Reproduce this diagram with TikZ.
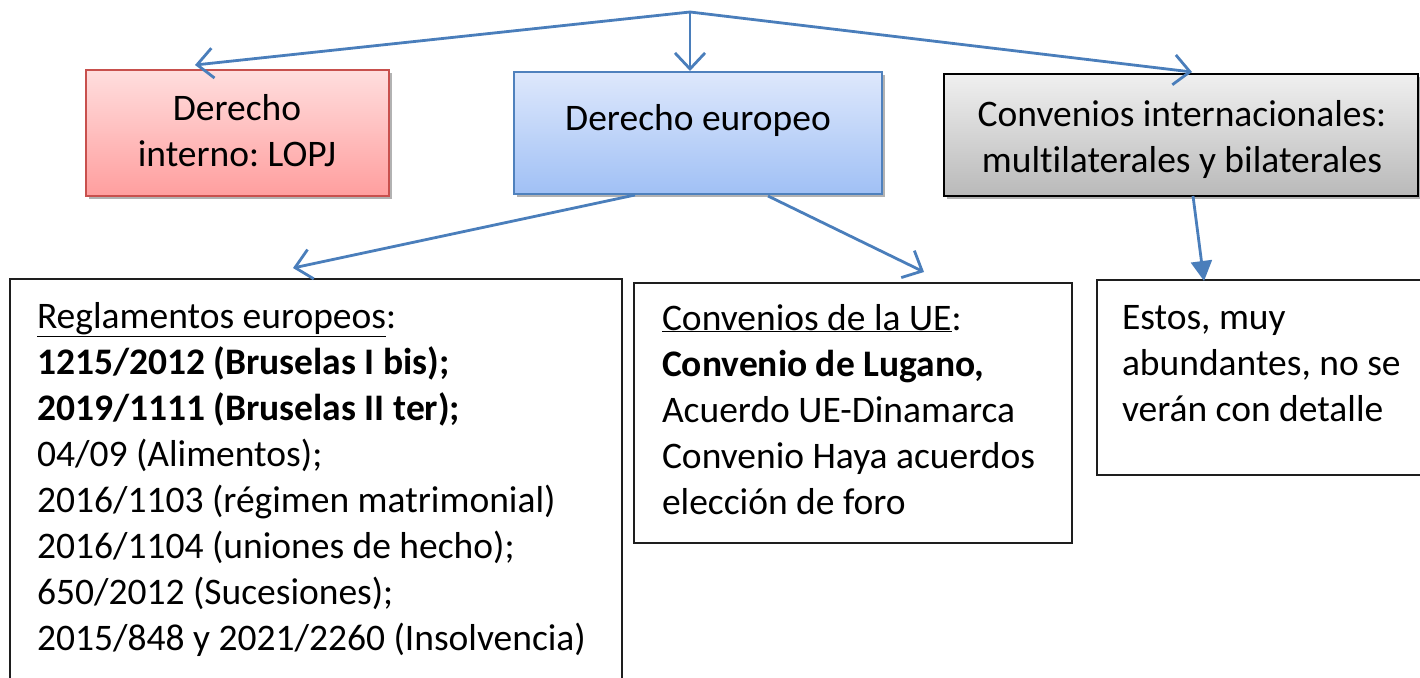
\documentclass[tikz,border=0pt]{standalone}
\usepackage{fontspec}
\setmainfont[Ligatures=NoCommon]{Carlito}
\usetikzlibrary{arrows.meta,shadows,calc}
\definecolor{arrowblue}{RGB}{74,126,187}
\definecolor{redtop}{RGB}{255,222,222}
\definecolor{redbot}{RGB}{255,158,158}
\definecolor{redline}{RGB}{200,80,77}
\definecolor{bluetop}{RGB}{222,232,252}
\definecolor{bluebot}{RGB}{160,192,245}
\definecolor{blueline}{RGB}{79,129,189}
\definecolor{greytop}{RGB}{240,240,240}
\definecolor{greybot}{RGB}{185,185,185}
\definecolor{boxline}{RGB}{30,30,30}
\frenchspacing
\begin{document}
\begin{tikzpicture}[x=1pt,y=-1pt,
  every node/.style={inner sep=0pt, outer sep=0pt},
  txt/.style={font=\fontsize{37.5}{46}\selectfont\frenchspacing, text=black},
  shadowed/.style={drop shadow={shadow xshift=3pt,shadow yshift=-3pt,opacity=0.3,fill=black}},
  redbox/.style={shadowed, rectangle, draw=redline, line width=1.5pt, top color=redtop, bottom color=redbot, anchor=north west},
  bluebox/.style={shadowed, rectangle, draw=blueline, line width=1.5pt, top color=bluetop, bottom color=bluebot, anchor=north west},
  greybox/.style={shadowed, rectangle, draw=black, line width=2pt, top color=greytop, bottom color=greybot, anchor=north west},
  plainbox/.style={rectangle, draw=boxline, line width=2pt, fill=white, anchor=north west},
  conn/.style={draw=arrowblue, line width=2.8pt, -{Straight Barb[length=16pt,width=30pt,line width=2.8pt]}},
  connfilled/.style={draw=arrowblue, line width=2.8pt, -{Triangle[length=20pt,width=21pt]}}
]
\useasboundingbox (0,0) rectangle (1420,677);

% top boxes
\node[redbox, minimum width=303pt, minimum height=126pt] (lopj) at (86,70) {};
\node[bluebox, minimum width=368pt, minimum height=122pt] (euro) at (514,72) {};
\node[greybox, minimum width=474pt, minimum height=122pt] (conv) at (944,74) {};

\node[txt, align=center, anchor=north] (lopjtxt) at (237,87.8) {\strut Derecho\\ \strut interno: LOPJ};
\node[txt, anchor=north] (eurotxt) at (698,97.8) {\strut Derecho europeo};
\node[txt, align=center, anchor=north] (convtxt) at (1182,93.8) {\strut Convenios internacionales:\\ \strut multilaterales y bilaterales};

% lower boxes
\node[plainbox, minimum width=612pt, minimum height=430pt] (regl) at (10,279) {};
\node[plainbox, minimum width=438pt, minimum height=260pt] (ue) at (634,283) {};
\node[plainbox, minimum width=340pt, minimum height=195pt] (otros) at (1097,280) {};

\node[txt, align=left, anchor=north west] (regltxt) at (37,295.8) {%
\strut\underline{Reglamentos europeos}:\\
\strut\textbf{1215/2012 (Bruselas I bis);}\\
\strut\textbf{2019/1111 (Bruselas II ter);}\\
\strut 04/09 (Alimentos);\\
\strut 2016/1103 (régimen matrimonial)\\
\strut 2016/1104 (uniones de hecho);\\
\strut 650/2012 (Sucesiones);\\
\strut 2015/848 y 2021/2260 (Insolvencia)};

\node[txt, align=left, anchor=north west] (uetxt) at (662,297.8) {%
\strut\underline{Convenios de la UE}:\\
\strut\textbf{Convenio de Lugano,}\\
\strut Acuerdo UE-Dinamarca\\
\strut Convenio Haya acuerdos\\
\strut elección de foro};

\node[txt, align=left, anchor=north west] (otrostxt) at (1122,296.8) {%
\strut Estos, muy\\
\strut abundantes, no se\\
\strut verán con detalle};

% connectors
\coordinate (top) at (690,12);
\draw[conn] (top) -- ($(lopj.north west)+(109,-5)$);
\draw[conn] (top) -- ($(euro.north west)+(176,-1)$);
\draw[conn] (top) -- ($(conv.north west)+(248,-2)$);

\draw[conn] ($(euro.south west)+(121,1)$) -- ($(regl.north west)+(283,-11)$);
\draw[conn] ($(euro.south west)+(254,2)$) -- ($(ue.north west)+(290,-11)$);
\draw[connfilled] ($(conv.south west)+(249,0)$) -- ($(otros.north west)+(107,1)$);
\end{tikzpicture}
\end{document}
